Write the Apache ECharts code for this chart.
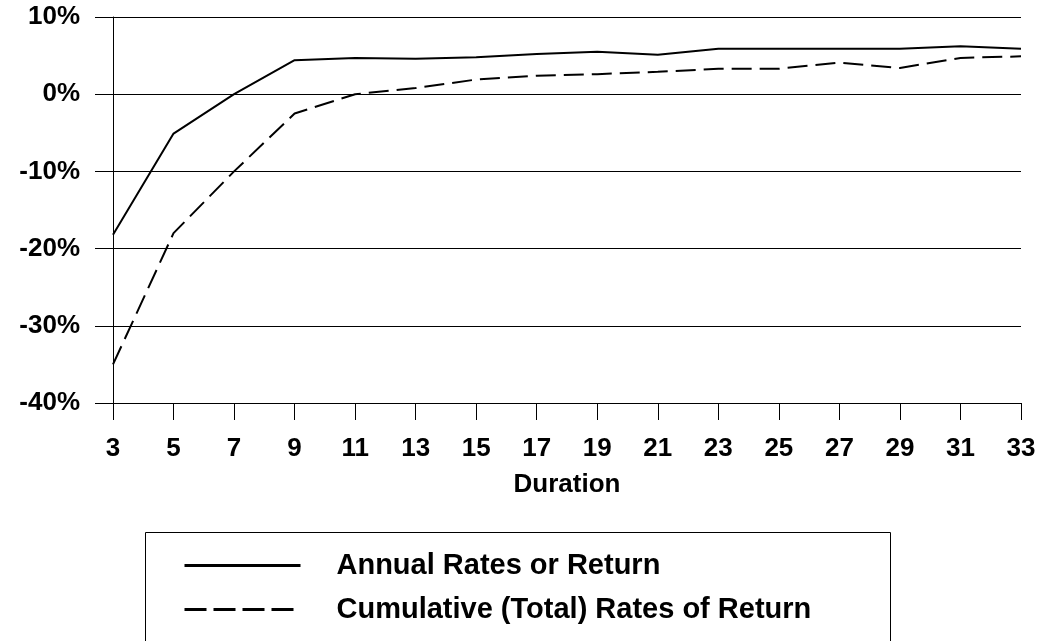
<!DOCTYPE html>
<html>
<head>
<meta charset="utf-8">
<script src="https://cdn.jsdelivr.net/npm/echarts@6/dist/echarts.min.js"></script>
<style>
html,body{margin:0;padding:0;background:#fff;}
#chart{width:1043px;height:641px;}
</style>
</head>
<body>
<div id="chart"></div>
<script>
var durations = ['3','5','7','9','11','13','15','17','19','21','23','25','27','29','31','33'];
var annualRates = [-18.2, -5.1, 0.0, 4.4, 4.7, 4.6, 4.8, 5.2, 5.5, 5.1, 5.9, 5.9, 5.9, 5.9, 6.2, 5.9];
var cumulativeRates = [-35.0, -18.0, -10.0, -2.5, 0.0, 0.8, 1.9, 2.4, 2.6, 2.9, 3.3, 3.3, 4.1, 3.4, 4.7, 4.9];
var seriesNames = ['Annual Rates or Return', 'Cumulative (Total) Rates of Return'];
var xAxisTitle = 'Duration';

var FONT = '"Liberation Sans", Arial, sans-serif';
var chart = echarts.init(document.getElementById('chart'), null, {renderer: 'canvas'});
chart.setOption({
  animation: false,
  backgroundColor: '#ffffff',
  grid: {left: 113, right: 22, top: 17, height: 386, containLabel: false},
  graphic: [{
    type: 'rect',
    shape: {x: 145.5, y: 532.5, width: 745, height: 200},
    style: {fill: 'none', stroke: '#000', lineWidth: 1},
    silent: true
  }],
  legend: {
    orient: 'vertical',
    left: 183,
    top: 551,
    padding: 0,
    itemWidth: 116,
    itemHeight: 14,
    itemGap: 15,
    data: [
      {name: seriesNames[0], itemStyle: {opacity: 0}, lineStyle: {width: 3}},
      {name: seriesNames[1], itemStyle: {opacity: 0}, lineStyle: {width: 3, type: [22, 7]}}
    ],
    formatter: function (name) { return '{t|' + name + '}'; },
    textStyle: {
      fontFamily: FONT, fontWeight: 'bold', fontSize: 29, color: '#000',
      rich: {
        t: {fontFamily: FONT, fontWeight: 'bold', fontSize: 29, color: '#000',
            lineHeight: 30, padding: [0, 0, 0, 31]}
      }
    }
  },
  xAxis: {
    type: 'category',
    data: durations,
    boundaryGap: false,
    name: xAxisTitle,
    nameLocation: 'middle',
    nameGap: 69,
    nameTextStyle: {fontFamily: FONT, fontWeight: 'bold', fontSize: 26, color: '#000'},
    axisLine: {show: true, onZero: false, lineStyle: {color: '#000', width: 1}},
    axisTick: {show: true, length: 17, alignWithLabel: true, lineStyle: {color: '#000'}},
    axisLabel: {
      interval: 0, margin: 33,
      fontFamily: FONT, fontWeight: 'bold', fontSize: 26, color: '#000'
    },
    splitLine: {show: false}
  },
  yAxis: {
    type: 'value',
    min: -40, max: 10, interval: 10,
    axisLine: {show: true, lineStyle: {color: '#000', width: 1}},
    axisTick: {show: true, length: 18, lineStyle: {color: '#000'}},
    axisLabel: {
      margin: 33, formatter: '{value}%', padding: [5, 0, 0, 0],
      fontFamily: FONT, fontWeight: 'bold', fontSize: 26, color: '#000'
    },
    splitLine: {show: true, lineStyle: {color: '#000', width: 1}}
  },
  series: [
    {
      name: seriesNames[0], type: 'line', data: annualRates,
      symbol: 'none', smooth: false,
      lineStyle: {color: '#000', width: 2, type: 'solid'},
      itemStyle: {color: '#000'}
    },
    {
      name: seriesNames[1], type: 'line', data: cumulativeRates,
      symbol: 'none', smooth: false,
      lineStyle: {color: '#000', width: 2, type: [20, 8]},
      itemStyle: {color: '#000'}
    }
  ]
});
</script>
</body>
</html>
